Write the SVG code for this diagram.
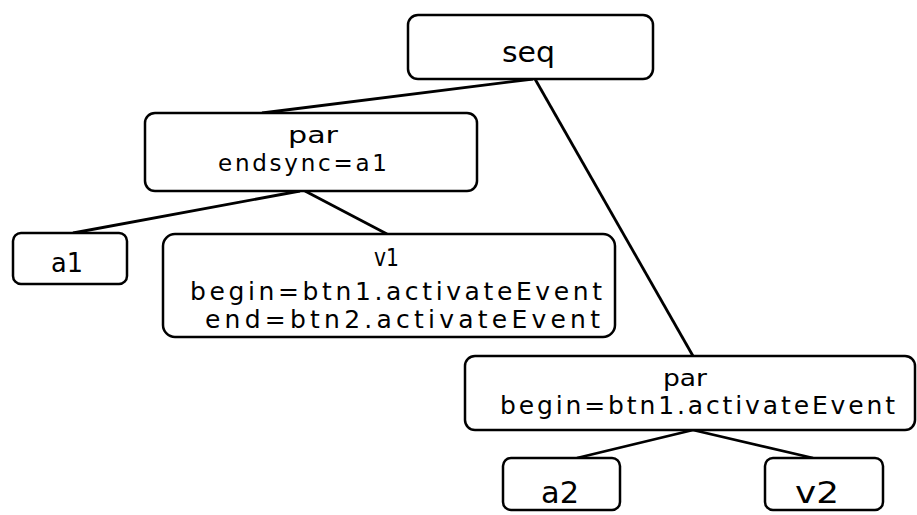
<svg xmlns="http://www.w3.org/2000/svg" width="917" height="515" viewBox="0 0 917 515">
<style>
.box{fill:#fff;stroke:#000;stroke-width:2.5}
.t{font-family:"DejaVu Sans","Liberation Sans",sans-serif;fill:#000;font-size:24px}
.edge{stroke:#000;stroke-width:2.8;fill:none}
</style>
<rect width="917" height="515" fill="#fff"/>
<g id="connectors">
<line class="edge" x1="533" y1="79" x2="262" y2="113"/>
<line class="edge" x1="535" y1="79" x2="693" y2="356"/>
<line class="edge" x1="300" y1="191" x2="73" y2="233"/>
<line class="edge" x1="305" y1="191" x2="387" y2="234"/>
<line class="edge" x1="693" y1="430" x2="577" y2="458"/>
<line class="edge" x1="693" y1="430" x2="813" y2="458"/>
</g>
<g id="seq">
<rect class="box" x="408" y="15" width="245" height="64" rx="10"/>
<text class="t" x="502" y="62" style="font-size:28px" textLength="53" lengthAdjust="spacingAndGlyphs">seq</text>
</g>
<g id="par1">
<rect class="box" x="145" y="113" width="332" height="78" rx="10"/>
<text class="t" x="288" y="143" style="font-size:23px" textLength="50" lengthAdjust="spacingAndGlyphs">par</text>
<text class="t" x="218" y="171" style="font-size:23px" textLength="169" lengthAdjust="spacing">endsync=a1</text>
</g>
<g id="a1">
<rect class="box" x="13" y="233" width="114" height="51" rx="8"/>
<text class="t" x="51" y="272" style="font-size:26px" textLength="32" lengthAdjust="spacingAndGlyphs">a1</text>
</g>
<g id="v1">
<rect class="box" x="163" y="234" width="452" height="103" rx="12"/>
<text class="t" x="374" y="266" textLength="25" lengthAdjust="spacingAndGlyphs">v1</text>
<text class="t" x="190" y="300" style="font-size:25px" textLength="412" lengthAdjust="spacing">begin=btn1.activateEvent</text>
<text class="t" x="205" y="328" style="font-size:25px" textLength="395" lengthAdjust="spacing">end=btn2.activateEvent</text>
</g>
<g id="par2">
<rect class="box" x="465" y="356" width="450" height="74" rx="10"/>
<text class="t" x="663" y="386" style="font-size:23px" textLength="44" lengthAdjust="spacingAndGlyphs">par</text>
<text class="t" x="500" y="414" style="font-size:25px" textLength="395" lengthAdjust="spacing">begin=btn1.activateEvent</text>
</g>
<g id="a2">
<rect class="box" x="503" y="458" width="117" height="52" rx="8"/>
<text class="t" x="541" y="503" style="font-size:31px" textLength="38" lengthAdjust="spacingAndGlyphs">a2</text>
</g>
<g id="v2">
<rect class="box" x="765" y="458" width="118" height="52" rx="8"/>
<text class="t" x="795" y="503" style="font-size:31px" textLength="44" lengthAdjust="spacingAndGlyphs">v2</text>
</g>
</svg>
